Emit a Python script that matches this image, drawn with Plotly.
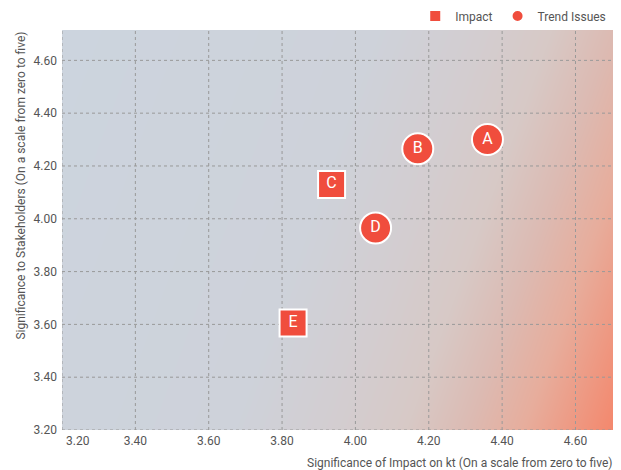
import numpy as np
import plotly.graph_objects as go

# materiality matrix data
impact_labels = ["C", "E"]
impact_x = [3.935, 3.83]
impact_y = [4.13, 3.605]

trend_labels = ["A", "B", "D"]
trend_x = [4.36, 4.17, 4.055]
trend_y = [4.30, 4.265, 3.965]

x_ticks = [3.2, 3.4, 3.6, 3.8, 4.0, 4.2, 4.4, 4.6]
y_ticks = [3.2, 3.4, 3.6, 3.8, 4.0, 4.2, 4.4, 4.6]

X_RANGE = [3.2, 4.705]
Y_RANGE = [3.2, 4.715]
RED = "#f04d3d"
TXT = "#555555"

# background: tilted linear gradient (grey-blue to salmon towards bottom right)
W, H = 552, 400
gx = np.linspace(X_RANGE[0], X_RANGE[1], 80)
gy = np.linspace(Y_RANGE[0], Y_RANGE[1], 60)
px = (gx - X_RANGE[0]) / (X_RANGE[1] - X_RANGE[0]) * W
py = (Y_RANGE[1] - gy) / (Y_RANGE[1] - Y_RANGE[0]) * H
ang = np.deg2rad(20)
PX, PY = np.meshgrid(px, py)
t = (PX * np.cos(ang) + PY * np.sin(ang)) / (W * np.cos(ang) + H * np.sin(ang))

bg_scale = [
    [0.0, "#ccd4de"],
    [0.45, "#ced2da"],
    [0.6, "#d3cdd0"],
    [0.7, "#d7c9c6"],
    [0.79, "#dcbab2"],
    [0.87, "#e7ad9c"],
    [1.0, "#f4876c"],
]

fig = go.Figure()
fig.add_trace(go.Heatmap(
    x=gx, y=gy, z=t, colorscale=bg_scale, zmin=0, zmax=1,
    zsmooth="best", showscale=False, hoverinfo="skip", showlegend=False,
))

# dotted grid drawn as a trace so it sits over the gradient but under the markers
grid_x, grid_y = [], []
for v in x_ticks:
    grid_x += [v, v, None]
    grid_y += [Y_RANGE[0], Y_RANGE[1], None]
for v in y_ticks:
    grid_x += [X_RANGE[0], X_RANGE[1], None]
    grid_y += [v, v, None]
fig.add_trace(go.Scatter(
    x=grid_x, y=grid_y, mode="lines", hoverinfo="skip", showlegend=False,
    line=dict(color="#999999", width=1, dash="dot"),
))

fig.add_trace(go.Scatter(
    x=impact_x, y=impact_y, text=impact_labels, name="Impact",
    mode="markers+text", textposition="middle center",
    textfont=dict(color="white", size=16, family="Roboto"),
    marker=dict(symbol="square", size=27, color=RED, line=dict(color="white", width=2)),
))
fig.add_trace(go.Scatter(
    x=trend_x, y=trend_y, text=trend_labels, name="Trend Issues",
    mode="markers+text", textposition="middle center",
    textfont=dict(color="white", size=16, family="Roboto"),
    marker=dict(symbol="circle", size=31, color=RED, line=dict(color="white", width=2)),
))

axis_common = dict(
    showgrid=False, zeroline=False, showline=False, ticks="", tickformat=".2f",
    automargin=False, tickfont=dict(family="Roboto", size=12, color=TXT),
)
fig.update_xaxes(range=X_RANGE, tickvals=x_ticks[1:], ticklabelstandoff=2, **axis_common)
fig.update_yaxes(range=Y_RANGE, tickvals=y_ticks, ticklabelstandoff=4, **axis_common)

# the page body adds an 8px offset, so the figure is 8px smaller on top/left
fig.update_layout(
    width=613, height=462,
    margin=dict(l=54, r=7, t=22, b=40, autoexpand=False),
    paper_bgcolor="white", plot_bgcolor="white",
    font=dict(family="Roboto", color=TXT),
    legend=dict(
        orientation="h", x=0.995, xanchor="right", y=1.035, yanchor="middle",
        font=dict(size=12, color=TXT), itemsizing="constant", itemwidth=30,
        bgcolor="rgba(0,0,0,0)",
    ),
    annotations=[
        dict(text=f"{x_ticks[0]:.2f}", xref="x", yref="paper", x=x_ticks[0], y=0,
             xshift=16, yshift=-2, xanchor="center", yanchor="top", showarrow=False,
             font=dict(size=12, color=TXT)),
        dict(text="Significance of Impact on kt (On a scale from zero to five)",
             xref="paper", yref="paper", x=1, y=-0.083, xanchor="right", yanchor="middle",
             showarrow=False, font=dict(size=12, color=TXT)),
        dict(text="Significance to Stakeholders (On a scale from zero to five)",
             xref="paper", yref="paper", x=-0.075, y=1, xanchor="center", yanchor="top",
             textangle=-90, showarrow=False, font=dict(size=12, color=TXT)),
    ],
)

fig.write_html("out.html")
